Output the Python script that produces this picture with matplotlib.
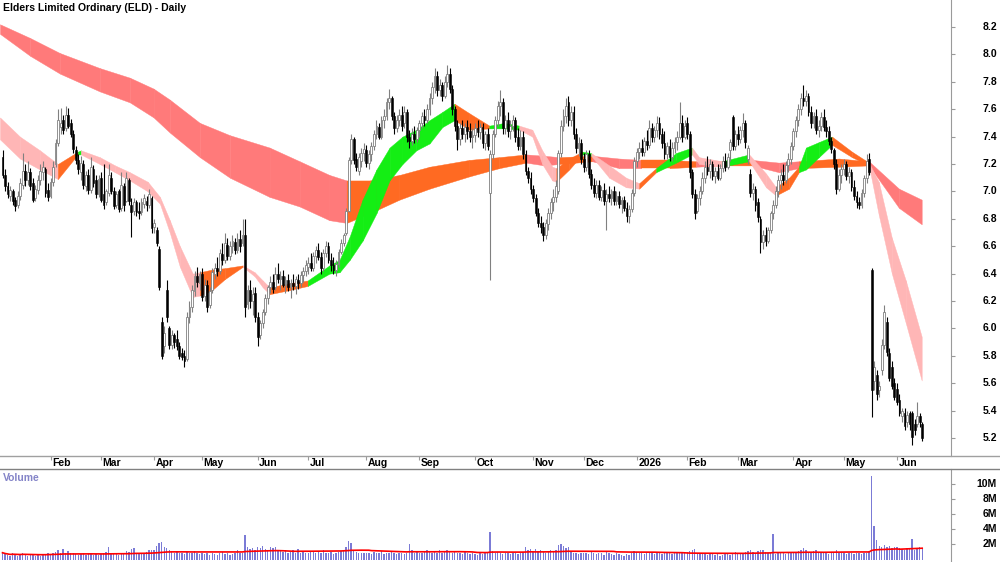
"""ELD daily candles with trend ribbons and a volume panel."""

import numpy as np
import pandas as pd
import matplotlib
matplotlib.use("Agg")
import matplotlib.pyplot as plt
from matplotlib.lines import Line2D

plt.rcParams["font.family"] = ["Liberation Sans", "DejaVu Sans"]

TITLE = "Elders Limited Ordinary (ELD) - Daily"

# month labels and the bar index of the first trading day of each month
MONTHS = ["Feb", "Mar", "Apr", "May", "Jun", "Jul", "Aug", "Sep", "Oct", "Nov",
          "Dec", "2026", "Feb", "Mar", "Apr", "May", "Jun"]
MONTH_BARS = [19, 39, 60, 79, 101, 121, 144, 165, 187, 210, 230, 251, 271, 291, 313, 333, 354]

PRICE_TICKS = [5.2, 5.4, 5.6, 5.8, 6.0, 6.2, 6.4, 6.6, 6.8, 7.0, 7.2, 7.4, 7.6, 7.8, 8.0, 8.2]
VOL_TICKS = [2, 4, 6, 8, 10]
VOL_LABELS = ["2M", "4M", "6M", "8M", "10M"]

# daily prices, one row per month (Jan 2025 .. Jun 2026)
OPEN = [
    7.25, 7.12, 7.04, 6.97, 7.00, 6.94, 6.90, 6.97, 7.05, 7.15, 7.08, 7.14, 7.06, 6.95, 7.01, 7.08, 7.14, 7.16, 7.01,
    6.97, 7.07, 7.20, 7.35, 7.47, 7.52, 7.46, 7.56, 7.50, 7.42, 7.30, 7.23, 7.14, 7.20, 7.04, 7.12, 7.01, 7.16, 7.08, 6.98,
    7.10, 6.98, 6.92, 6.99, 7.10, 7.00, 6.90, 7.00, 6.88, 7.04, 6.93, 7.08, 6.90, 6.86, 6.92, 6.86, 6.85, 6.91, 6.93, 6.90, 6.95,
    6.74, 6.72, 6.58, 6.05, 5.87, 6.28, 6.00, 5.88, 5.95, 5.92, 5.87, 5.82, 5.80, 5.78, 6.08, 6.16, 6.27, 6.38, 6.33,
    6.40, 6.24, 6.32, 6.17, 6.28, 6.40, 6.44, 6.42, 6.54, 6.50, 6.61, 6.53, 6.60, 6.63, 6.57, 6.65, 6.62, 6.68, 6.18, 6.28, 6.20, 6.26,
    6.08, 5.95, 6.04, 6.12, 6.22, 6.30, 6.34, 6.30, 6.40, 6.36, 6.38, 6.32, 6.35, 6.30, 6.33, 6.31, 6.35, 6.33, 6.39, 6.42,
    6.45, 6.48, 6.44, 6.53, 6.57, 6.52, 6.44, 6.55, 6.60, 6.50, 6.46, 6.43, 6.47, 6.56, 6.62, 6.70, 6.86, 7.23, 7.38, 7.24, 7.15, 7.22, 7.28,
    7.30, 7.21, 7.27, 7.33, 7.42, 7.47, 7.40, 7.52, 7.55, 7.65, 7.68, 7.55, 7.46, 7.52, 7.56, 7.50, 7.58, 7.40, 7.37, 7.42, 7.38,
    7.45, 7.50, 7.55, 7.52, 7.60, 7.68, 7.76, 7.84, 7.74, 7.78, 7.70, 7.80, 7.86, 7.75, 7.60, 7.48, 7.38, 7.46, 7.42, 7.47, 7.44, 7.40,
    7.41, 7.46, 7.43, 7.47, 7.35, 7.42, 6.99, 7.27, 7.42, 7.52, 7.62, 7.65, 7.46, 7.52, 7.44, 7.48, 7.52, 7.40, 7.33, 7.40, 7.27, 7.15, 7.10,
    7.02, 6.95, 6.84, 6.77, 6.74, 6.68, 6.76, 6.84, 6.92, 6.96, 7.00, 7.28, 7.48, 7.55, 7.65, 7.52, 7.58, 7.42, 7.32, 7.35,
    7.24, 7.18, 7.27, 7.13, 7.05, 6.99, 7.05, 6.96, 7.01, 6.93, 6.98, 6.95, 7.00, 6.93, 6.97, 6.91, 6.94, 6.88, 6.82, 6.87, 6.99,
    7.22, 7.29, 7.32, 7.29, 7.37, 7.34, 7.46, 7.40, 7.45, 7.50, 7.42, 7.35, 7.27, 7.33, 7.25, 7.32, 7.36, 7.40, 7.50, 7.40,
    7.50, 7.42, 7.14, 6.98, 6.86, 6.95, 7.00, 7.10, 7.18, 7.15, 7.20, 7.11, 7.15, 7.10, 7.17, 7.22, 7.18, 7.30, 7.54, 7.33,
    7.42, 7.38, 7.45, 7.50, 7.24, 7.13, 6.99, 7.02, 6.92, 6.80, 6.63, 6.68, 6.64, 6.72, 6.84, 6.90, 7.00, 7.08, 7.12, 7.08, 7.19, 7.24,
    7.33, 7.44, 7.52, 7.60, 7.68, 7.66, 7.70, 7.58, 7.50, 7.55, 7.45, 7.48, 7.54, 7.47, 7.44, 7.37, 7.30, 7.20, 7.02, 7.12,
    7.16, 7.20, 7.11, 7.14, 7.03, 6.97, 6.92, 6.90, 6.99, 7.10, 7.24, 6.43, 5.62, 5.66, 5.55, 5.70, 5.88, 6.05, 5.82, 5.72, 5.60,
    5.56, 5.48, 5.36, 5.38, 5.32, 5.38, 5.38, 5.30, 5.30, 5.36, 5.30,
]
HIGH = [
    7.30, 7.16, 7.07, 7.04, 7.02, 6.96, 7.00, 7.10, 7.28, 7.20, 7.22, 7.17, 7.10, 7.05, 7.12, 7.20, 7.22, 7.18, 7.06,
    7.10, 7.22, 7.38, 7.60, 7.61, 7.56, 7.62, 7.61, 7.53, 7.45, 7.33, 7.27, 7.26, 7.23, 7.15, 7.16, 7.25, 7.19, 7.12, 7.12,
    7.14, 7.20, 7.02, 7.20, 7.14, 7.03, 7.00, 7.02, 7.14, 7.06, 7.14, 7.10, 6.95, 6.95, 6.94, 6.92, 6.95, 6.98, 6.97, 7.02, 6.97,
    6.80, 6.74, 6.60, 6.08, 6.02, 6.35, 6.02, 5.99, 5.97, 5.99, 5.90, 5.86, 5.84, 6.12, 6.20, 6.32, 6.42, 6.45, 6.42,
    6.44, 6.36, 6.35, 6.30, 6.44, 6.48, 6.52, 6.58, 6.62, 6.70, 6.66, 6.64, 6.68, 6.66, 6.70, 6.72, 6.80, 6.80, 6.32, 6.35, 6.30, 6.30,
    6.12, 6.06, 6.14, 6.25, 6.32, 6.38, 6.40, 6.45, 6.48, 6.42, 6.43, 6.38, 6.40, 6.36, 6.40, 6.38, 6.40, 6.42, 6.45, 6.50,
    6.52, 6.55, 6.56, 6.60, 6.62, 6.56, 6.58, 6.64, 6.63, 6.55, 6.52, 6.50, 6.58, 6.65, 6.70, 6.88, 7.25, 7.42, 7.40, 7.28, 7.28, 7.32, 7.35,
    7.34, 7.30, 7.36, 7.45, 7.52, 7.50, 7.55, 7.60, 7.68, 7.75, 7.70, 7.58, 7.56, 7.60, 7.62, 7.62, 7.60, 7.45, 7.46, 7.48, 7.47,
    7.52, 7.58, 7.60, 7.64, 7.72, 7.80, 7.90, 7.88, 7.82, 7.80, 7.84, 7.92, 7.90, 7.78, 7.62, 7.52, 7.50, 7.52, 7.50, 7.52, 7.50, 7.46,
    7.50, 7.52, 7.50, 7.50, 7.44, 7.46, 7.30, 7.45, 7.55, 7.66, 7.74, 7.68, 7.56, 7.58, 7.52, 7.56, 7.54, 7.46, 7.45, 7.44, 7.30, 7.18, 7.14,
    7.05, 6.98, 6.88, 6.82, 6.78, 6.80, 6.88, 6.95, 7.02, 7.08, 7.30, 7.52, 7.60, 7.68, 7.70, 7.62, 7.62, 7.46, 7.40, 7.38,
    7.28, 7.30, 7.30, 7.16, 7.10, 7.08, 7.08, 7.04, 7.06, 7.02, 7.04, 7.02, 7.04, 7.00, 7.00, 6.96, 6.97, 6.92, 6.90, 7.02, 7.25,
    7.32, 7.36, 7.38, 7.40, 7.45, 7.52, 7.50, 7.48, 7.55, 7.54, 7.46, 7.44, 7.36, 7.38, 7.36, 7.40, 7.44, 7.65, 7.56, 7.52,
    7.54, 7.44, 7.16, 7.02, 6.98, 7.04, 7.14, 7.22, 7.26, 7.24, 7.22, 7.18, 7.20, 7.20, 7.26, 7.28, 7.28, 7.38, 7.56, 7.45,
    7.48, 7.48, 7.57, 7.52, 7.34, 7.16, 7.06, 7.04, 6.95, 6.82, 6.72, 6.74, 6.74, 6.86, 6.94, 7.04, 7.12, 7.16, 7.20, 7.22, 7.28, 7.36,
    7.46, 7.55, 7.64, 7.72, 7.78, 7.74, 7.72, 7.62, 7.58, 7.60, 7.52, 7.58, 7.60, 7.52, 7.48, 7.40, 7.32, 7.24, 7.16, 7.20,
    7.24, 7.22, 7.18, 7.16, 7.08, 7.00, 6.96, 7.02, 7.12, 7.27, 7.28, 6.44, 5.76, 5.70, 5.62, 5.92, 6.17, 6.08, 5.86, 5.76, 5.64,
    5.60, 5.52, 5.42, 5.42, 5.40, 5.40, 5.40, 5.34, 5.46, 5.38, 5.32,
]
LOW = [
    7.10, 7.00, 6.95, 6.93, 6.90, 6.86, 6.88, 6.94, 7.02, 7.04, 7.05, 7.01, 6.92, 6.93, 6.98, 7.05, 7.08, 6.96, 6.93,
    6.95, 7.04, 7.18, 7.33, 7.42, 7.42, 7.44, 7.46, 7.40, 7.28, 7.20, 7.13, 7.08, 7.02, 7.00, 6.98, 6.99, 7.03, 6.95, 6.96,
    6.92, 6.87, 6.90, 6.97, 6.98, 6.87, 6.88, 6.85, 6.86, 6.86, 6.92, 6.90, 6.67, 6.83, 6.82, 6.80, 6.83, 6.88, 6.86, 6.88, 6.70,
    6.70, 6.60, 6.28, 5.78, 5.82, 6.05, 5.85, 5.85, 5.86, 5.84, 5.78, 5.77, 5.72, 5.76, 6.04, 6.12, 6.24, 6.30, 6.28,
    6.20, 6.20, 6.12, 6.15, 6.26, 6.36, 6.38, 6.40, 6.46, 6.48, 6.50, 6.50, 6.55, 6.54, 6.55, 6.56, 6.60, 6.08, 6.14, 6.15, 6.10, 6.05,
    5.87, 5.92, 6.00, 6.10, 6.18, 6.26, 6.26, 6.28, 6.33, 6.28, 6.30, 6.26, 6.27, 6.22, 6.28, 6.25, 6.29, 6.30, 6.34, 6.38,
    6.40, 6.42, 6.42, 6.48, 6.50, 6.40, 6.42, 6.52, 6.48, 6.42, 6.40, 6.38, 6.45, 6.54, 6.60, 6.68, 6.85, 7.20, 7.20, 7.15, 7.12, 7.18, 7.22,
    7.18, 7.16, 7.22, 7.30, 7.38, 7.38, 7.38, 7.46, 7.52, 7.60, 7.52, 7.42, 7.43, 7.48, 7.44, 7.46, 7.36, 7.32, 7.34, 7.35, 7.36,
    7.40, 7.46, 7.48, 7.50, 7.56, 7.64, 7.72, 7.70, 7.70, 7.66, 7.68, 7.76, 7.72, 7.56, 7.44, 7.30, 7.34, 7.38, 7.36, 7.38, 7.36, 7.32,
    7.36, 7.40, 7.38, 7.32, 7.30, 7.30, 6.35, 7.24, 7.40, 7.48, 7.55, 7.42, 7.42, 7.40, 7.38, 7.44, 7.36, 7.30, 7.30, 7.24, 7.12, 7.06, 6.98,
    6.92, 6.82, 6.74, 6.70, 6.64, 6.65, 6.72, 6.80, 6.86, 6.92, 6.98, 7.25, 7.44, 7.50, 7.48, 7.48, 7.38, 7.28, 7.26, 7.20,
    7.14, 7.15, 7.10, 7.02, 6.96, 6.95, 6.94, 6.93, 6.90, 6.72, 6.92, 6.90, 6.90, 6.90, 6.88, 6.84, 6.86, 6.78, 6.77, 6.85, 6.97,
    7.18, 7.24, 7.26, 7.26, 7.30, 7.32, 7.36, 7.36, 7.40, 7.38, 7.32, 7.24, 7.24, 7.22, 7.22, 7.28, 7.30, 7.38, 7.36, 7.38,
    7.38, 7.10, 6.95, 6.80, 6.84, 6.90, 6.98, 7.06, 7.12, 7.10, 7.08, 7.06, 7.08, 7.08, 7.14, 7.15, 7.16, 7.22, 7.30, 7.30,
    7.34, 7.35, 7.40, 7.32, 7.20, 6.96, 6.94, 6.86, 6.78, 6.55, 6.58, 6.60, 6.62, 6.70, 6.80, 6.88, 6.96, 7.02, 7.05, 7.06, 7.14, 7.20,
    7.30, 7.40, 7.48, 7.56, 7.62, 7.62, 7.55, 7.46, 7.46, 7.42, 7.40, 7.44, 7.44, 7.40, 7.34, 7.28, 7.16, 6.98, 7.00, 7.06,
    7.12, 7.08, 7.06, 7.00, 6.94, 6.88, 6.87, 6.88, 6.96, 7.06, 7.12, 5.35, 5.55, 5.48, 5.50, 5.66, 5.85, 5.80, 5.62, 5.56, 5.48,
    5.44, 5.36, 5.32, 5.26, 5.28, 5.26, 5.15, 5.22, 5.28, 5.28, 5.18,
]
CLOSE = [
    7.12, 7.04, 6.98, 7.01, 6.93, 6.89, 6.97, 7.06, 7.15, 7.08, 7.14, 7.04, 6.94, 7.02, 7.08, 7.15, 7.18, 6.99, 6.96,
    7.07, 7.18, 7.35, 7.52, 7.50, 7.45, 7.56, 7.48, 7.42, 7.31, 7.23, 7.16, 7.21, 7.05, 7.12, 7.01, 7.18, 7.06, 6.98, 7.09,
    6.94, 6.90, 7.00, 7.12, 7.00, 6.89, 6.98, 6.87, 7.05, 6.90, 7.10, 6.93, 6.85, 6.92, 6.85, 6.84, 6.92, 6.95, 6.90, 6.98, 6.73,
    6.77, 6.62, 6.30, 5.80, 5.97, 6.08, 5.88, 5.95, 5.90, 5.87, 5.80, 5.79, 5.76, 6.08, 6.16, 6.28, 6.38, 6.34, 6.40,
    6.23, 6.32, 6.16, 6.27, 6.41, 6.44, 6.42, 6.55, 6.50, 6.62, 6.53, 6.60, 6.64, 6.57, 6.65, 6.60, 6.68, 6.16, 6.28, 6.20, 6.25, 6.08,
    5.94, 6.04, 6.12, 6.22, 6.30, 6.34, 6.29, 6.40, 6.36, 6.38, 6.32, 6.35, 6.30, 6.33, 6.31, 6.36, 6.33, 6.39, 6.42, 6.46,
    6.48, 6.44, 6.53, 6.57, 6.52, 6.44, 6.55, 6.60, 6.50, 6.46, 6.43, 6.47, 6.56, 6.62, 6.68, 6.86, 7.23, 7.38, 7.23, 7.18, 7.25, 7.28, 7.31,
    7.21, 7.27, 7.33, 7.42, 7.48, 7.40, 7.52, 7.55, 7.65, 7.68, 7.55, 7.46, 7.52, 7.56, 7.48, 7.58, 7.40, 7.37, 7.42, 7.38, 7.45,
    7.50, 7.55, 7.52, 7.60, 7.68, 7.76, 7.84, 7.74, 7.78, 7.70, 7.80, 7.86, 7.75, 7.60, 7.48, 7.38, 7.46, 7.42, 7.47, 7.44, 7.40, 7.41,
    7.46, 7.43, 7.47, 7.35, 7.42, 7.33, 7.27, 7.42, 7.52, 7.62, 7.65, 7.46, 7.52, 7.44, 7.48, 7.52, 7.40, 7.33, 7.40, 7.27, 7.15, 7.10, 7.02,
    6.95, 6.84, 6.77, 6.74, 6.68, 6.77, 6.84, 6.92, 6.96, 7.04, 7.28, 7.48, 7.55, 7.62, 7.52, 7.58, 7.42, 7.32, 7.35, 7.24,
    7.18, 7.27, 7.13, 7.05, 6.99, 7.05, 6.96, 7.01, 6.93, 6.98, 6.95, 7.00, 6.93, 6.97, 6.91, 6.94, 6.88, 6.82, 6.87, 6.99, 7.22,
    7.29, 7.32, 7.29, 7.37, 7.34, 7.46, 7.40, 7.45, 7.50, 7.42, 7.35, 7.27, 7.33, 7.25, 7.32, 7.36, 7.40, 7.50, 7.40, 7.48,
    7.42, 7.14, 6.98, 6.84, 6.95, 7.00, 7.10, 7.18, 7.15, 7.20, 7.11, 7.15, 7.10, 7.17, 7.22, 7.18, 7.25, 7.36, 7.33, 7.42,
    7.38, 7.45, 7.50, 7.36, 7.32, 6.99, 7.02, 6.90, 6.81, 6.63, 6.68, 6.64, 6.72, 6.84, 6.90, 7.00, 7.08, 7.12, 7.08, 7.19, 7.24, 7.33,
    7.44, 7.52, 7.60, 7.68, 7.66, 7.70, 7.58, 7.50, 7.55, 7.45, 7.48, 7.54, 7.47, 7.44, 7.37, 7.31, 7.20, 7.02, 7.12, 7.16,
    7.20, 7.11, 7.14, 7.03, 6.97, 6.92, 6.90, 6.99, 7.10, 7.22, 7.14, 5.55, 5.72, 5.52, 5.58, 5.88, 6.12, 5.83, 5.64, 5.58, 5.50,
    5.46, 5.38, 5.40, 5.29, 5.37, 5.30, 5.21, 5.26, 5.36, 5.32, 5.20,
]
# volume in millions of shares
VOLUME = [
    0.9, 0.7, 0.6, 0.5, 0.8, 0.6, 0.5, 0.7, 0.9, 0.6, 0.5, 0.6, 0.7, 0.5, 0.6, 0.5, 0.6, 0.7, 0.8,
    0.7, 0.8, 1.0, 1.2, 0.9, 1.4, 0.8, 1.1, 0.9, 0.8, 0.7, 0.6, 0.7, 0.9, 0.6, 0.7, 0.8, 0.6, 0.7, 0.6,
    0.7, 0.8, 1.0, 1.6, 0.7, 0.9, 0.8, 0.6, 0.7, 0.8, 1.1, 1.0, 1.4, 1.5, 0.9, 0.8, 0.7, 0.9, 1.0, 1.2, 1.3,
    1.3, 1.8, 2.2, 2.3, 1.6, 1.5, 1.2, 1.0, 0.9, 1.1, 0.8, 0.9, 0.7, 1.0, 0.8, 0.9, 1.1, 0.8, 0.7,
    0.8, 0.7, 0.9, 0.6, 0.8, 0.7, 0.6, 0.9, 1.0, 0.7, 0.8, 0.6, 0.7, 0.9, 1.2, 0.8, 0.9, 3.2, 1.6, 1.4, 1.5, 1.3,
    1.7, 1.5, 1.8, 1.4, 1.3, 1.6, 1.5, 1.7, 1.2, 1.1, 1.0, 1.3, 0.9, 1.0, 1.2, 0.8, 1.4, 0.9, 1.0, 0.8,
    0.9, 1.0, 1.1, 0.8, 1.0, 0.9, 1.3, 0.8, 0.9, 1.0, 0.7, 0.9, 1.0, 1.1, 1.3, 1.6, 2.4, 2.2, 1.2, 1.0, 0.9, 0.8, 0.9,
    0.8, 0.9, 0.7, 1.0, 0.8, 0.9, 1.1, 0.7, 0.8, 0.9, 1.0, 0.8, 0.7, 0.9, 0.8, 0.7, 0.9, 2.0, 1.2, 0.9, 1.0,
    0.9, 0.8, 1.1, 1.3, 1.0, 0.9, 1.1, 0.8, 1.2, 0.9, 1.1, 1.3, 1.0, 0.9, 1.1, 0.8, 0.9, 0.7, 1.0, 0.8, 0.7, 0.8,
    0.7, 0.6, 0.8, 0.7, 0.9, 1.0, 3.7, 1.1, 0.9, 1.0, 0.8, 0.7, 0.9, 0.8, 0.7, 0.8, 0.9, 0.7, 0.8, 1.0, 1.7, 1.2, 1.4,
    1.0, 1.4, 1.1, 1.2, 1.0, 0.9, 1.0, 1.2, 1.1, 1.3, 1.9, 2.0, 1.8, 1.5, 1.6, 1.0, 0.8, 0.9, 0.7, 0.8,
    0.8, 0.9, 0.7, 1.0, 0.8, 0.7, 0.9, 0.8, 0.6, 1.0, 0.8, 0.7, 0.6, 0.8, 0.7, 0.6, 0.5, 0.7, 0.6, 0.9, 1.1,
    1.0, 0.9, 0.8, 0.7, 0.9, 1.0, 0.8, 0.7, 0.8, 0.9, 0.7, 0.8, 1.0, 0.8, 0.7, 0.9, 0.8, 1.0, 0.9, 0.8,
    1.0, 1.1, 1.2, 1.4, 0.9, 0.8, 0.7, 0.8, 0.6, 0.7, 0.8, 0.6, 0.7, 0.5, 0.6, 0.7, 0.8, 0.6, 0.9, 1.0,
    0.8, 0.9, 0.7, 1.0, 1.1, 1.2, 1.0, 0.9, 1.1, 1.3, 1.2, 1.0, 0.8, 0.9, 3.4, 0.7, 1.0, 0.8, 0.9, 0.7, 0.8, 0.9,
    0.9, 1.0, 1.1, 1.3, 1.5, 1.2, 1.0, 0.9, 1.1, 1.2, 0.9, 1.0, 0.8, 0.9, 0.7, 0.8, 1.0, 1.2, 0.9, 0.8,
    0.8, 0.7, 0.9, 0.8, 0.7, 0.9, 0.8, 0.7, 0.8, 0.9, 1.1, 11.0, 4.5, 2.6, 1.8, 1.7, 1.9, 1.6, 1.8, 1.5, 1.7,
    1.6, 1.5, 1.4, 1.3, 1.5, 1.4, 2.7, 1.3, 1.5, 1.6, 1.5,
]

# short trend ribbon: position (bar), top, bottom, colour of the next stretch
SHORT_X = [-1.0, 6.9, 14.8, 21.9, 29.8, 31.0, 38.5, 44.5, 50.4, 57.5, 62.3, 66.2, 70.2, 75.3, 78.1, 83.0, 88.0,
           95.1, 99.8, 103.0, 105.7, 113.6, 120.8, 129.4, 133.4, 137.4, 142.5, 148.0, 153.2, 158.3, 163.8, 169.0,
           174.1, 178.9, 184.8, 192.7, 198.6, 204.5, 209.7, 213.6, 217.6, 219.2, 224.3, 229.5, 233.0, 240.1, 246.8,
           252.0, 258.7, 266.6, 272.9, 275.7, 284.8, 295.5, 302.2, 306.1, 311.3, 315.2, 318.0, 323.1, 328.3, 336.2,
           342.9, 346.8, 352.0, 357.5, 363.8]
SHORT_TOP = [7.54, 7.40, 7.30, 7.20, 7.29, 7.30, 7.25, 7.19, 7.14, 7.07, 6.96, 6.79, 6.60, 6.40, 6.41, 6.43, 6.44,
             6.46, 6.41, 6.35, 6.30, 6.33, 6.35, 6.46, 6.50, 6.67, 6.94, 7.16, 7.32, 7.40, 7.45, 7.52,
             7.58, 7.64, 7.57, 7.48, 7.50, 7.48, 7.45, 7.30, 7.18, 7.17, 7.24, 7.29, 7.28, 7.19, 7.10,
             7.06, 7.17, 7.28, 7.32, 7.25, 7.22, 7.27, 7.13, 7.03, 7.10, 7.18, 7.32, 7.36, 7.40, 7.29,
             7.21, 7.07, 6.66, 6.35, 5.94]
SHORT_BOT = [7.38, 7.24, 7.16, 7.09, 7.27, 7.27, 7.20, 7.14, 7.08, 7.00, 6.91, 6.70, 6.45, 6.23, 6.24, 6.28, 6.36,
             6.45, 6.38, 6.30, 6.25, 6.28, 6.31, 6.40, 6.41, 6.50, 6.64, 6.84, 7.08, 7.20, 7.30, 7.35,
             7.47, 7.52, 7.45, 7.46, 7.46, 7.45, 7.40, 7.20, 7.08, 7.07, 7.16, 7.27, 7.26, 7.10, 7.03,
             7.02, 7.14, 7.21, 7.27, 7.20, 7.18, 7.22, 7.03, 6.97, 7.02, 7.14, 7.16, 7.25, 7.34, 7.25,
             7.19, 6.83, 6.40, 6.04, 5.62]
SHORT_COL = list("PPPOGPPPPPPPPPOOOPPPOOGGGGGGGGGGGOOGGPPPPOOGPPPOGGPPGPPOOGGGOOPPPPP")

# long trend ribbon
LONG_X = [-1.0, 10.9, 22.7, 38.5, 50.4, 59.8, 66.2, 78.1, 90.0, 105.7, 117.6, 129.4, 136.2, 145.3, 157.1,
          169.0, 184.8, 196.6, 207.3, 214.4, 220.4, 233.4, 244.0, 252.8, 264.0, 274.5, 284.8, 296.6, 307.3,
          315.2, 331.0, 342.9, 354.8, 363.8]
LONG_TOP = [8.22, 8.12, 8.01, 7.90, 7.83, 7.75, 7.67, 7.50, 7.41, 7.32, 7.22, 7.12, 7.08, 7.08, 7.12,
            7.18, 7.23, 7.25, 7.27, 7.26, 7.25, 7.26, 7.24, 7.23, 7.23, 7.22, 7.22, 7.23, 7.21,
            7.22, 7.24, 7.22, 7.02, 6.94]
LONG_BOT = [8.15, 7.99, 7.86, 7.73, 7.65, 7.54, 7.43, 7.25, 7.10, 6.96, 6.89, 6.79, 6.77, 6.84, 6.94,
            7.02, 7.11, 7.17, 7.21, 7.19, 7.20, 7.22, 7.17, 7.17, 7.17, 7.18, 7.19, 7.19, 7.14,
            7.17, 7.18, 7.19, 6.88, 6.76]
LONG_COL = list("RRRRRRRRRRRROOOOOORRORROORORROORRR")

COLOURS = {"P": "#ffb6b6", "G": "#14ee14", "O": "#ff6a22", "R": "#ff7a7a"}

W, H = 1000, 562
XL = (-0.99, 375.4)
LABEL_X = 997 / 951  # right edge of the axis labels, in axes units


def axes_px(fig, x0, y0, x1, y1):
    return fig.add_axes([x0 / W, 1 - y1 / H, (x1 - x0) / W, (y1 - y0) / H])


def ribbon(ax, xs, top, bot, cols):
    for k in range(len(xs) - 1):
        col = COLOURS[cols[k]]
        ax.fill_between(xs[k:k + 2], bot[k:k + 2], top[k:k + 2], color=col, ec=col, lw=0.3, zorder=1)


def right_axis(ax, ticks, labels):
    for s in ("top", "left", "bottom"):
        ax.spines[s].set_visible(False)
    ax.spines["right"].set_color("#9a9a9a")
    ax.yaxis.tick_right()
    ax.set_yticks(ticks)
    ax.set_yticklabels([])
    ax.tick_params(axis="y", length=3, color="#9a9a9a")
    for v, lab in zip(ticks, labels):
        ax.text(LABEL_X, v, lab, transform=ax.get_yaxis_transform(), fontsize=7.5,
                fontweight="bold", ha="right", va="center", clip_on=False)


def main():
    o, h, l, c = (np.array(a) for a in (OPEN, HIGH, LOW, CLOSE))
    x = np.arange(len(c))
    up = c >= o

    fig = plt.figure(figsize=(W / 100, H / 100), dpi=100)
    ax = axes_px(fig, 0, 0, 951, 456)
    axv = axes_px(fig, 0, 469, 951, 562)

    # ribbons under the candles
    ribbon(ax, LONG_X, LONG_TOP, LONG_BOT, LONG_COL)
    ribbon(ax, SHORT_X, SHORT_TOP, SHORT_BOT, SHORT_COL)

    ax.vlines(x, l, h, colors=np.where(up, "#808080", "#000000"), lw=0.8, zorder=3)
    body_lo = np.minimum(o, c)
    body_h = np.maximum(np.abs(c - o), 0.008)
    ax.bar(x[up], body_h[up], bottom=body_lo[up], width=0.72, color="white",
           edgecolor="#808080", lw=0.6, zorder=4)
    ax.bar(x[~up], body_h[~up], bottom=body_lo[~up], width=0.72, color="black",
           edgecolor="black", lw=0.4, zorder=4)

    ax.set_xlim(XL)
    ax.set_ylim(5.069, 8.397)
    right_axis(ax, PRICE_TICKS, [f"{v:.1f}" for v in PRICE_TICKS])
    ax.set_xticks(MONTH_BARS)
    ax.set_xticklabels([])
    ax.tick_params(axis="x", length=3, color="#9a9a9a", direction="out")
    for i, m in zip(MONTH_BARS, MONTHS):
        ax.text(i + 0.6, -0.0145, m, transform=ax.get_xaxis_transform(), fontsize=7.5,
                fontweight="bold", ha="left", va="center", clip_on=False)

    fig.text(3 / W, 1 - 8 / H, TITLE, fontsize=7.5, fontweight="bold", ha="left", va="center")

    # volume panel
    vol = pd.Series(VOLUME)
    axv.bar(x, vol, width=0.55, color="#7b7bd6", zorder=2)
    axv.plot(x, vol.rolling(50, min_periods=1).mean(), color="#ff0000", lw=1.2, zorder=3)
    axv.set_xlim(XL)
    axv.set_ylim(-0.33, 11.99)
    right_axis(axv, VOL_TICKS, VOL_LABELS)
    axv.set_xticks([])
    axv.text(3 / 951, 0.90, "Volume", transform=axv.transAxes, fontsize=7.5,
             fontweight="bold", color="#8484c8", ha="left", va="center")

    for yp, col in ((456, "#a0a0a0"), (469, "#808080")):
        fig.add_artist(Line2D([0, 1], [1 - yp / H] * 2, transform=fig.transFigure, color=col, lw=1))

    fig.savefig("out.png", dpi=100)
    plt.close(fig)


if __name__ == "__main__":
    main()
